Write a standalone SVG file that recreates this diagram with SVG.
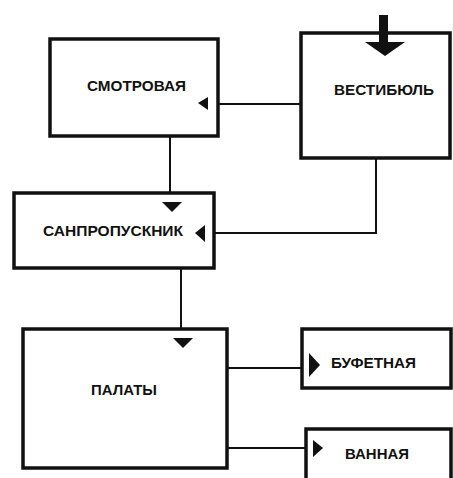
<svg xmlns="http://www.w3.org/2000/svg" width="453" height="478" viewBox="0 0 453 478">
<style>
.box{fill:#fff;stroke:#111;stroke-width:3.5}
.lbl{font-family:"Liberation Sans",Arial,sans-serif;font-weight:bold;font-size:14px;fill:#111}
.con{fill:none;stroke:#111;stroke-width:2}
.tri{fill:#111}
</style>
<rect width="453" height="478" fill="#fff"/>
<g id="connectors">
<polyline class="con" points="218,104 301,104"/>
<polyline class="con" points="170,136 170,193"/>
<polyline class="con" points="376,158 376,233 214,233"/>
<polyline class="con" points="181,268 181,329"/>
<polyline class="con" points="227,368 302,368"/>
<polyline class="con" points="227,448 306,448"/>
</g>
<g id="smotrovaya">
<rect class="box" x="50" y="39" width="168" height="97"/>
<text class="lbl" x="87" y="91" textLength="99" lengthAdjust="spacingAndGlyphs">СМОТРОВАЯ</text>
<polygon class="tri" points="198,103 208,97 208,110"/>
</g>
<g id="vestibyul">
<rect class="box" x="301" y="33" width="149" height="125"/>
<text class="lbl" x="334" y="95" textLength="100" lengthAdjust="spacingAndGlyphs">ВЕСТИБЮЛЬ</text>
<rect class="tri" x="379" y="15" width="9" height="28"/>
<polygon class="tri" points="365,42 405,42 385,56"/>
</g>
<g id="sanpropusknik">
<rect class="box" x="14" y="193" width="200" height="75"/>
<text class="lbl" x="43" y="236" textLength="140" lengthAdjust="spacingAndGlyphs">САНПРОПУСКНИК</text>
<polygon class="tri" points="162,202 182,202 172,212"/>
<polygon class="tri" points="195,233 205,225 205,242"/>
</g>
<g id="palaty">
<rect class="box" x="23" y="329" width="204" height="139"/>
<text class="lbl" x="91" y="395" textLength="66" lengthAdjust="spacingAndGlyphs">ПАЛАТЫ</text>
<polygon class="tri" points="173,338 193,338 183,348"/>
</g>
<g id="bufetnaya">
<rect class="box" x="302" y="329" width="149" height="59"/>
<text class="lbl" x="331" y="368" textLength="85" lengthAdjust="spacingAndGlyphs">БУФЕТНАЯ</text>
<polygon class="tri" points="309,353 320,365 309,377"/>
</g>
<g id="vannaya">
<rect class="box" x="306" y="429" width="145" height="60"/>
<text class="lbl" x="345" y="459" textLength="64" lengthAdjust="spacingAndGlyphs">ВАННАЯ</text>
<polygon class="tri" points="313,440 323,448 313,457"/>
</g>
</svg>
